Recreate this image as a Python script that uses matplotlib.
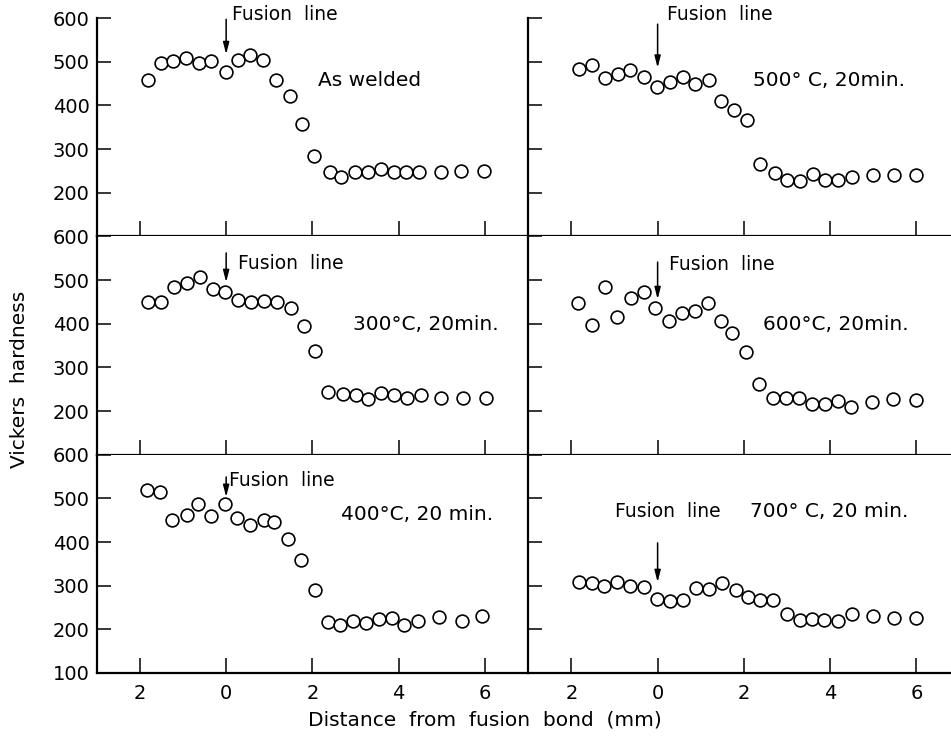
import numpy as np
import matplotlib
matplotlib.use('Agg')
import matplotlib.pyplot as plt
from matplotlib.ticker import FuncFormatter

plt.rcParams['font.family'] = 'DejaVu Sans'

# distance from fusion bond (mm), negative = weld metal side
x_welded = [-1.81, -1.51, -1.23, -0.92, -0.63, -0.35, -0.01, 0.27, 0.55, 0.86, 1.15, 1.48, 1.75,
            2.04, 2.41, 2.67, 2.98, 3.28, 3.58, 3.88, 4.17, 4.48, 4.97, 5.45, 5.98]
hv_welded = [458, 496, 501, 509, 496, 502, 477, 504, 515, 505, 458, 422, 357,
             284, 248, 236, 247, 247, 255, 248, 248, 248, 248, 250, 250]

x_500 = [-1.82, -1.52, -1.22, -0.92, -0.64, -0.31, -0.02, 0.29, 0.58, 0.86, 1.19, 1.46, 1.77,
         2.08, 2.37, 2.71, 3.0, 3.31, 3.59, 3.88, 4.19, 4.5, 5.0, 5.48, 5.98]
hv_500 = [484, 492, 463, 471, 482, 466, 441, 454, 465, 448, 457, 410, 389,
          366, 266, 245, 230, 226, 243, 230, 228, 237, 241, 241, 241]

x_300 = [-1.80, -1.51, -1.22, -0.91, -0.61, -0.31, -0.02, 0.27, 0.58, 0.88, 1.17, 1.50, 1.81,
         2.05, 2.36, 2.70, 3.02, 3.29, 3.60, 3.90, 4.19, 4.52, 4.98, 5.49, 6.02]
hv_300 = [450, 450, 485, 493, 507, 479, 472, 455, 449, 453, 450, 435, 394,
          338, 243, 238, 236, 227, 241, 236, 230, 237, 230, 230, 230]

x_600 = [-1.85, -1.52, -1.23, -0.93, -0.62, -0.32, -0.05, 0.27, 0.57, 0.86, 1.17, 1.48, 1.72,
         2.05, 2.36, 2.67, 2.98, 3.27, 3.57, 3.88, 4.17, 4.48, 4.98, 5.46, 5.98]
hv_600 = [447, 396, 483, 416, 458, 472, 435, 405, 424, 430, 448, 405, 379,
          336, 263, 230, 229, 229, 215, 216, 223, 210, 220, 227, 225]

x_400 = [-1.84, -1.54, -1.26, -0.90, -0.65, -0.35, -0.02, 0.25, 0.56, 0.87, 1.12, 1.43, 1.73,
         2.05, 2.35, 2.65, 2.95, 3.24, 3.55, 3.85, 4.12, 4.45, 4.93, 5.47, 5.93]
hv_400 = [518, 515, 451, 461, 488, 459, 488, 455, 438, 451, 445, 407, 359,
          291, 217, 209, 219, 215, 223, 227, 211, 219, 228, 218, 230]

x_700 = [-1.82, -1.52, -1.24, -0.95, -0.64, -0.32, -0.02, 0.28, 0.58, 0.90, 1.19, 1.49, 1.81,
         2.09, 2.38, 2.68, 3.0, 3.31, 3.58, 3.85, 4.19, 4.5, 5.0, 5.48, 5.98]
hv_700 = [308, 305, 300, 308, 300, 296, 270, 264, 268, 295, 292, 306, 291,
          273, 268, 268, 235, 222, 224, 221, 219, 235, 230, 226, 226]

conditions = ['As welded', '500\u00b0 C, 20min.', '300\u00b0C, 20min.',
              '600\u00b0C, 20min.', '400\u00b0C, 20 min.', '700\u00b0 C, 20 min.']
xs = [x_welded, x_500, x_300, x_600, x_400, x_700]
ys = [hv_welded, hv_500, hv_300, hv_600, hv_400, hv_700]

# text placement per panel: (label x, label y), (fusion text x, y), (arrow top, arrow tip)
label_pos = [(2.12, 458), (2.22, 458), (2.93, 399), (2.45, 399), (2.67, 462), (2.15, 471)]
fusion_pos = [(0.14, 607), (0.22, 607), (0.28, 537), (0.27, 535), (0.07, 542), (-0.98, 471)]
arrow_y = [(597, 517), (586, 486), (562, 495), (541, 456), (549, 503), (398, 308)]

fig = plt.figure(figsize=(9.51, 7.36), dpi=100)
gs = fig.add_gridspec(3, 2, width_ratios=[10, 9.8], wspace=0, hspace=0,
                      left=0.1017, right=1.0, bottom=0.0856, top=0.9755)

for i in range(6):
    row, col = divmod(i, 2)
    ax = fig.add_subplot(gs[row, col])
    ax.plot(xs[i], ys[i], 'o', ms=9.2, mfc='white', mec='black', mew=1.2, clip_on=False)

    ax.set_ylim(100, 600)
    if col == 0:
        ax.set_xlim(-3, 7)
    else:
        ax.set_xlim(-3, 6.8)
    ax.set_xticks([-2, 0, 2, 4, 6])
    ax.xaxis.set_major_formatter(FuncFormatter(lambda v, p: '%d' % abs(v)))
    if row == 2:
        ax.set_yticks([100, 200, 300, 400, 500, 600])
    else:
        ax.set_yticks([200, 300, 400, 500, 600])

    ax.tick_params(axis='x', direction='in', length=11, width=1.1, pad=8,
                   labelsize=14, labelbottom=(row == 2))
    ax.tick_params(axis='y', direction='in', length=10, width=1.1, pad=5,
                   labelsize=14, labelleft=(col == 0))

    ax.spines['top'].set_visible(False)
    ax.spines['right'].set_visible(False)
    ax.spines['left'].set_linewidth(1.6)
    ax.spines['bottom'].set_linewidth(1.6)

    ax.text(label_pos[i][0], label_pos[i][1], conditions[i], fontsize=14.5,
            ha='left', va='center')
    ax.text(fusion_pos[i][0], fusion_pos[i][1], 'Fusion  line', fontsize=13.5,
            ha='left', va='center', clip_on=False)
    ax.annotate('', xy=(0, arrow_y[i][1]), xytext=(0, arrow_y[i][0]),
                arrowprops=dict(arrowstyle='-|>,head_length=0.7,head_width=0.18',
                                color='black', lw=1.1, shrinkA=0, shrinkB=0),
                annotation_clip=False)

fig.text(0.51, 0.0217, 'Distance  from  fusion  bond  (mm)', fontsize=14.5,
         ha='center', va='center')
fig.text(0.021, 0.484, 'Vickers  hardness', fontsize=14.5, rotation=90,
         ha='center', va='center')

fig.savefig('out.png', dpi=100)
